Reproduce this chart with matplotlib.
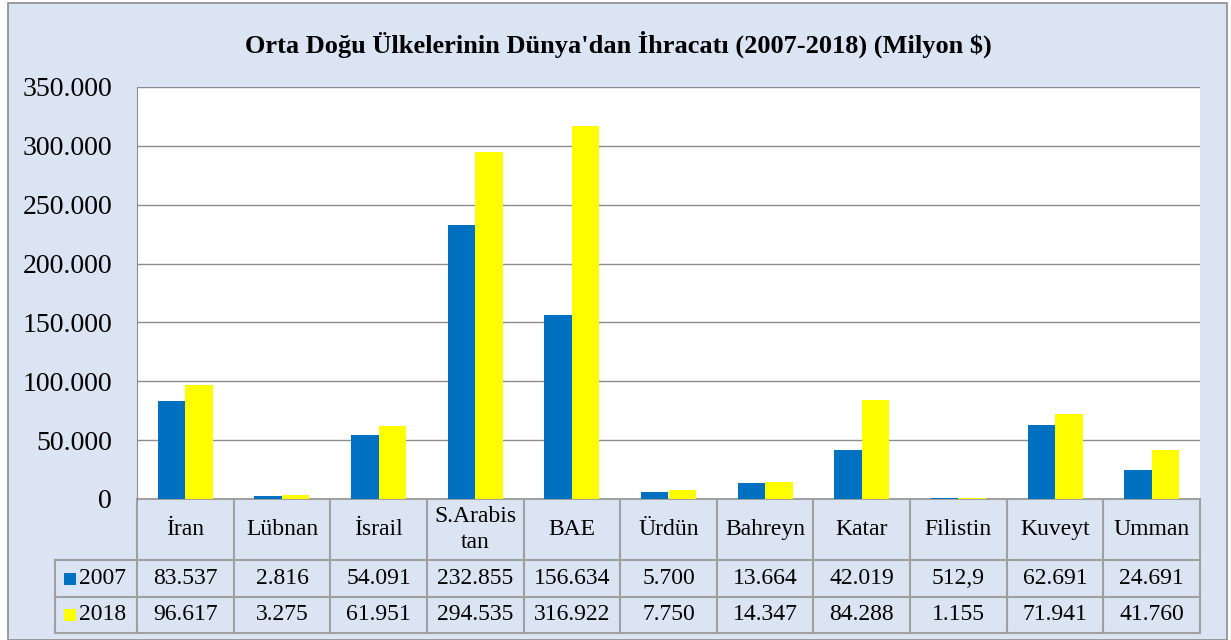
import matplotlib
matplotlib.use('Agg')
import matplotlib.pyplot as plt
import numpy as np
from matplotlib.patches import Rectangle
from matplotlib.ticker import FuncFormatter

# data (Milyon $)
countries = ["İran", "Lübnan", "İsrail", "S.Arabis\ntan", "BAE", "Ürdün",
             "Bahreyn", "Katar", "Filistin", "Kuveyt", "Umman"]
exp_2007 = [83537, 2816, 54091, 232855, 156634, 5700, 13664, 42019, 512.9, 62691, 24691]
exp_2018 = [96617, 3275, 61951, 294535, 316922, 7750, 14347, 84288, 1155, 71941, 41760]
labels_2007 = ["83.537", "2.816", "54.091", "232.855", "156.634", "5.700",
               "13.664", "42.019", "512,9", "62.691", "24.691"]
labels_2018 = ["96.617", "3.275", "61.951", "294.535", "316.922", "7.750",
               "14.347", "84.288", "1.155", "71.941", "41.760"]
years = ["2007", "2018"]
title = "Orta Doğu Ülkelerinin Dünya'dan İhracatı (2007-2018) (Milyon $)"

blue = "#0070C0"
yellow = "#FFFF00"
bg = "#DBE4F2"
line_c = "#A0A0A0"

plt.rcParams['font.family'] = ['Liberation Serif', 'DejaVu Serif']

W, H = 1231, 640
fig = plt.figure(figsize=(W / 100, H / 100), dpi=100)
fig.patch.set_facecolor('white')
fig.patches.append(Rectangle((8 / W, 0), 1219 / W, 1 - 3 / H, transform=fig.transFigure,
                             facecolor=bg, edgecolor='#8C8C8C', lw=1.2, zorder=-10))

ax = fig.add_axes([137 / W, 1 - 499 / H, 1063 / W, 412 / H])
ax.set_facecolor('white')

x = np.arange(len(countries))
w = 0.285
ax.bar(x - w / 2, exp_2007, w, color=blue, zorder=3)
ax.bar(x + w / 2, exp_2018, w, color=yellow, zorder=3)

ax.set_xlim(-0.5, len(countries) - 0.5)
ax.set_ylim(0, 350000)
ax.set_yticks(np.arange(0, 350001, 50000))
ax.yaxis.set_major_formatter(FuncFormatter(lambda v, p: f"{int(v):,}".replace(",", ".")))
ax.tick_params(axis='y', length=0, labelsize=20, pad=18)
ax.set_xticks([])
ax.grid(axis='y', color='#8C8C8C', lw=1, zorder=0)
for s in ['top', 'right', 'bottom']:
    ax.spines[s].set_visible(False)
ax.spines['left'].set_color('#8C8C8C')

# data table under the bars
tr = ax.get_xaxis_transform()
axh = 412.0
y_head = -61 / axh
y_r1 = -98 / axh
y_r2 = -134 / axh
x_lab = -0.5 - 82 / (1063 / len(countries))
kw = dict(transform=tr, clip_on=False, color=line_c, lw=1.5)
n = len(countries)
ax.plot([-0.5, n - 0.5], [0, 0], **kw)
ax.plot([x_lab, n - 0.5], [y_head, y_head], **kw)
ax.plot([x_lab, n - 0.5], [y_r1, y_r1], **kw)
ax.plot([x_lab, n - 0.5], [y_r2, y_r2], **kw)
ax.plot([x_lab, x_lab], [y_head, y_r2], **kw)
for b in np.arange(-0.5, n, 1.0):
    ax.plot([b, b], [0, y_r2], **kw)

for i, c in enumerate(countries):
    ax.text(i, y_head / 2, c, transform=tr, ha='center', va='center', fontsize=17,
            linespacing=1.25)
    ax.text(i, (y_head + y_r1) / 2, labels_2007[i], transform=tr, ha='center',
            va='center', fontsize=17)
    ax.text(i, (y_r1 + y_r2) / 2, labels_2018[i], transform=tr, ha='center',
            va='center', fontsize=17)

sq = 12
for yr, col, (top, bot) in zip(years, [blue, yellow], [(y_head, y_r1), (y_r1, y_r2)]):
    mid = (top + bot) / 2
    ax.add_patch(Rectangle((x_lab + 9 / 96.64, mid - sq / 2 / axh), sq / 96.64, sq / axh,
                           transform=tr, clip_on=False, facecolor=col, edgecolor='none'))
    ax.text(x_lab + 24 / 96.64, mid, yr, transform=tr, ha='left', va='center', fontsize=17)

fig.text(618 / W, 1 - 44 / H, title, ha='center', va='center', fontsize=19,
         fontweight='bold')

fig.savefig('out.png', dpi=100, facecolor=fig.get_facecolor())
